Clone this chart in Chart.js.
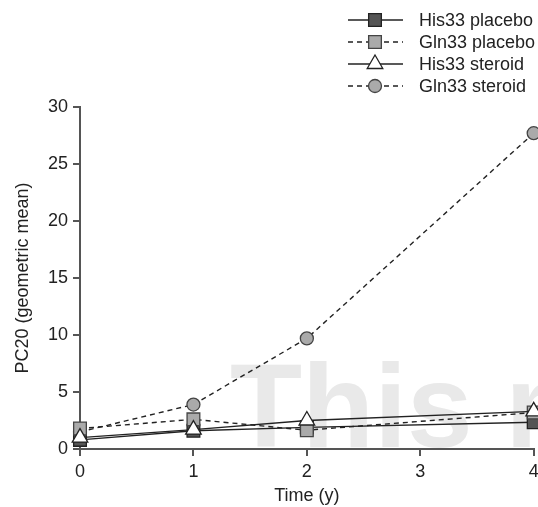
<!DOCTYPE html>
<html lang="en">
<head>
  <meta charset="UTF-8">
  <title>PC20 over time</title>
  <script src="https://cdn.jsdelivr.net/npm/chart.js"></script>
  <style>
    * { box-sizing: border-box; margin: 0; padding: 0; }
    body { background: #fff; overflow: hidden; }
    #wrap { width: 538px; height: 507px; position: relative; overflow: hidden; }
  </style>
</head>
<body>
  <div id="wrap">
    <!-- a little wider than the page so the last x tick sits near the edge -->
    <canvas id="pcChart" width="544" height="507"></canvas>
  </div>

  <script>
    // Values
    const times = [0, 1, 2, 4];
    const his33Placebo = [0.8, 1.6, 1.9, 2.35];
    const gln33Placebo = [1.8, 2.6, 1.65, 3.2];
    const his33Steroid = [1.0, 1.7, 2.5, 3.3];
    const gln33Steroid = [1.5, 3.9, 9.7, 27.7];
    const xTicks = [0, 1, 2, 3, 4];
    const yTicks = [0, 5, 10, 15, 20, 25, 30];

    const FONT = "'Liberation Sans', Arial, sans-serif";
    const INK = '#222';
    const AXIS = '#555';

    function points(values) {
      return times.map((t, i) => ({ x: t, y: values[i] }));
    }

    const datasets = [
      {
        label: 'His33 placebo',
        data: points(his33Placebo),
        borderColor: INK, borderWidth: 1.4,
        pointStyle: 'rect', pointRadius: 9,
        pointBackgroundColor: '#555', pointBorderColor: '#222', pointBorderWidth: 1.3,
        order: 3, clip: false
      },
      {
        label: 'Gln33 placebo',
        data: points(gln33Placebo),
        borderColor: INK, borderWidth: 1.4, borderDash: [5, 4],
        pointStyle: 'rect', pointRadius: 9,
        pointBackgroundColor: '#aaa', pointBorderColor: '#444', pointBorderWidth: 1.3,
        order: 1, clip: false
      },
      {
        label: 'His33 steroid',
        data: points(his33Steroid),
        borderColor: INK, borderWidth: 1.4,
        pointStyle: 'triangle', pointRadius: 9,
        pointBackgroundColor: '#fff', pointBorderColor: '#222', pointBorderWidth: 1.3,
        order: 0, clip: false
      },
      {
        label: 'Gln33 steroid',
        data: points(gln33Steroid),
        borderColor: INK, borderWidth: 1.4, borderDash: [5, 4],
        pointStyle: 'circle', pointRadius: 6.5,
        pointBackgroundColor: '#aaa', pointBorderColor: '#444', pointBorderWidth: 1.3,
        order: 2, clip: false
      }
    ];

    // Light grey watermark behind the plot
    const watermark = {
      id: 'watermark',
      beforeDatasetsDraw(chart) {
        const ctx = chart.ctx;
        ctx.save();
        ctx.fillStyle = '#e9e9e9';
        ctx.font = 'bold 118px ' + FONT;
        ctx.textBaseline = 'alphabetic';
        ctx.fillText('This m', 230, 447);
        ctx.restore();
      }
    };

    // Legend with a line sample through the marker, stacked in one column
    const sampleLegend = {
      id: 'sampleLegend',
      afterDraw(chart) {
        const ctx = chart.ctx;
        const rows = [20, 42, 64, 86];
        datasets.forEach((ds, i) => {
          const y = rows[i];
          ctx.save();
          ctx.strokeStyle = ds.borderColor;
          ctx.lineWidth = ds.borderWidth;
          ctx.setLineDash(ds.borderDash || []);
          ctx.beginPath();
          ctx.moveTo(348, y);
          ctx.lineTo(403, y);
          ctx.stroke();
          ctx.setLineDash([]);
          ctx.fillStyle = ds.pointBackgroundColor;
          ctx.strokeStyle = ds.pointBorderColor;
          ctx.lineWidth = ds.pointBorderWidth;
          Chart.helpers.drawPoint(ctx, {
            pointStyle: ds.pointStyle, radius: ds.pointRadius,
            borderWidth: ds.pointBorderWidth, rotation: 0
          }, 375, y);
          ctx.fillStyle = INK;
          ctx.font = '18px ' + FONT;
          ctx.textBaseline = 'middle';
          ctx.fillText(ds.label, 419, y + 1);
          ctx.restore();
        });
      }
    };

    new Chart(document.getElementById('pcChart'), {
      type: 'line',
      data: { datasets },
      plugins: [watermark, sampleLegend],
      options: {
        responsive: false,
        animation: false,
        events: [],
        layout: { padding: { top: 107, right: 0, left: 0, bottom: 0 } },
        plugins: { legend: { display: false }, tooltip: { enabled: false } },
        scales: {
          x: {
            type: 'linear', min: 0, max: 4,
            afterBuildTicks(scale) { scale.ticks = xTicks.map(v => ({ value: v })); },
            afterFit(scale) { scale.height = 58; },
            grid: { drawOnChartArea: false, drawTicks: true, tickLength: 7, color: AXIS, lineWidth: 2 },
            border: { display: true, color: AXIS, width: 2 },
            ticks: { color: INK, padding: 5, font: { family: FONT, size: 18 } },
            title: { display: true, text: 'Time (y)', color: INK, padding: { top: 3, bottom: 0 }, font: { family: FONT, size: 18 } }
          },
          y: {
            type: 'linear', min: 0, max: 30,
            afterBuildTicks(scale) { scale.ticks = yTicks.map(v => ({ value: v })); },
            afterFit(scale) { scale.width = 80; },
            grid: { drawOnChartArea: false, drawTicks: true, tickLength: 7, color: AXIS, lineWidth: 2 },
            border: { display: true, color: AXIS, width: 2 },
            ticks: { color: INK, padding: 5, font: { family: FONT, size: 18 } },
            title: { display: true, text: 'PC20 (geometric mean)', color: INK, padding: { top: 12, bottom: 0 }, font: { family: FONT, size: 18 } }
          }
        }
      }
    });
  </script>
</body>
</html>
